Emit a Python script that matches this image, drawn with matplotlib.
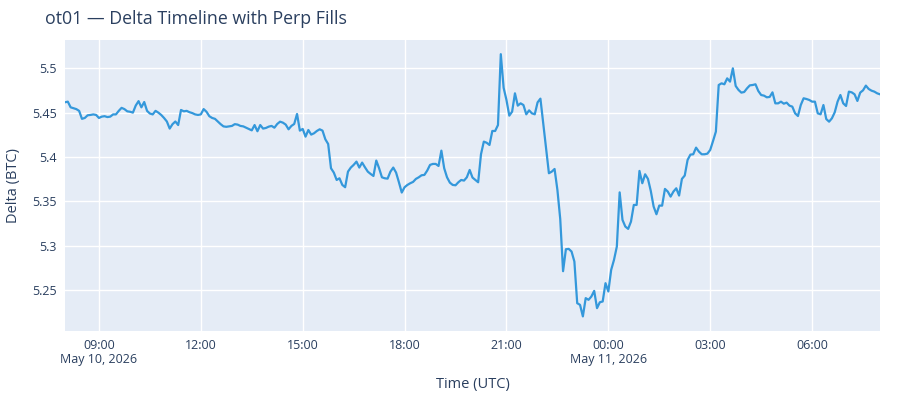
import pandas as pd
import matplotlib
matplotlib.use("Agg")
from matplotlib import pyplot as plt

plt.rcParams['font.family'] = ['Open Sans', 'DejaVu Sans']

title = "ot01 \u2014 Delta Timeline with Perp Fills"
start_time = "2026-05-10 08:00"
step = "5min"

# delta readings every 5 minutes, 08:00 May 10 -> 08:00 May 11 (UTC)
delta = [
    5.4617, 5.4624, 5.456, 5.455, 5.454, 5.452, 5.443, 5.444, 5.447, 5.4474,
    5.448, 5.4474, 5.444, 5.4455, 5.446, 5.445, 5.4455, 5.448, 5.448, 5.452,
    5.4554, 5.454, 5.4515, 5.451, 5.450, 5.458, 5.463, 5.456, 5.462, 5.452,
    5.449, 5.448, 5.452, 5.450, 5.4474, 5.444, 5.440, 5.432, 5.437, 5.440,
    5.436, 5.453, 5.4515, 5.452, 5.4505, 5.4495, 5.448, 5.4474, 5.448, 5.454,
    5.451, 5.446, 5.444, 5.443, 5.440, 5.437, 5.4345, 5.434, 5.4345, 5.435,
    5.437, 5.4365, 5.435, 5.4345, 5.433, 5.4315, 5.430, 5.436, 5.429, 5.436,
    5.432, 5.4327, 5.4342, 5.435, 5.433, 5.4372, 5.4398, 5.4387, 5.4365, 5.4312,
    5.435, 5.4372, 5.4485, 5.4297, 5.4316, 5.4229, 5.4304, 5.4252, 5.4267, 5.4293,
    5.4312, 5.4297, 5.4199, 5.4146, 5.3872, 5.3823, 5.374, 5.3759, 5.3684, 5.3658,
    5.3834, 5.388, 5.391, 5.3947, 5.388, 5.3936, 5.3883, 5.3834, 5.3808, 5.3785,
    5.3959, 5.3872, 5.377, 5.3759, 5.3755, 5.3834, 5.388, 5.3823, 5.3714, 5.3598,
    5.3658, 5.3684, 5.3703, 5.3718, 5.3752, 5.377, 5.3793, 5.3797, 5.3846, 5.391,
    5.3921, 5.3921, 5.3898, 5.4071, 5.3872, 5.377, 5.371, 5.3684, 5.368, 5.3714,
    5.374, 5.3733, 5.377, 5.3853, 5.3767, 5.374, 5.3714, 5.403, 5.4173, 5.416,
    5.4135, 5.4293, 5.4293, 5.436, 5.516, 5.478, 5.4643, 5.4466, 5.4511, 5.4718,
    5.4579, 5.4605, 5.4586, 5.4481, 5.4526, 5.4492, 5.4481, 5.4616, 5.4658, 5.438,
    5.4098, 5.3816, 5.3834, 5.3864, 5.3628, 5.33, 5.271, 5.2958, 5.2962, 5.2932,
    5.2819, 5.2349, 5.233, 5.22, 5.2406, 5.2387, 5.2424, 5.2488, 5.2293, 5.236,
    5.2368, 5.2575, 5.2481, 5.2725, 5.2838, 5.2988, 5.36, 5.3289, 5.3214, 5.3188,
    5.327, 5.3458, 5.3458, 5.3842, 5.3703, 5.3804, 5.3752, 5.3616, 5.344, 5.3353,
    5.3451, 5.345, 5.3639, 5.3609, 5.3552, 5.3609, 5.3646, 5.3564, 5.3752, 5.379,
    5.3966, 5.4026, 5.403, 5.4105, 5.406, 5.403, 5.403, 5.4037, 5.4079, 5.418,
    5.4286, 5.4812, 5.4831, 5.482, 5.4887, 5.485, 5.5, 5.4801, 5.4756, 5.4726,
    5.4733, 5.4774, 5.4808, 5.4812, 5.482, 5.4744, 5.4699, 5.4692, 5.4673, 5.4677,
    5.4729, 5.4605, 5.4605, 5.4624, 5.4601, 5.4613, 5.4579, 5.4568, 5.4492, 5.4462,
    5.4586, 5.4662, 5.4654, 5.4643, 5.4624, 5.4624, 5.4492, 5.4481, 5.4586, 5.4428,
    5.4398, 5.4436, 5.4504, 5.4624, 5.4699, 5.4605, 5.4575, 5.4737, 5.4729, 5.4707,
    5.4632, 5.4726, 5.4752, 5.4805, 5.4767, 5.4748, 5.4737, 5.4718, 5.4707,
]

times = pd.date_range(start_time, periods=len(delta), freq=step)

x_ticks = pd.date_range("2026-05-10 09:00", "2026-05-11 06:00", freq="3h")
x_labels = ["09:00\nMay 10, 2026", "12:00", "15:00", "18:00", "21:00",
            "00:00\nMay 11, 2026", "03:00", "06:00"]
y_ticks = [5.25, 5.3, 5.35, 5.4, 5.45, 5.5]
y_labels = ["5.25", "5.3", "5.35", "5.4", "5.45", "5.5"]

text_col = "#2a3f5f"

fig = plt.figure(figsize=(9, 4), dpi=100)
ax = fig.add_axes([0.0722, 0.1725, 0.9056, 0.7275])
ax.set_facecolor("#E5ECF6")

ax.plot(times, delta, color="#3498db", linewidth=1.6, zorder=3)

ax.set_xlim(times[0], times[-1])
ax.set_ylim(5.2035, 5.532)

ax.set_xticks(x_ticks)
ax.set_xticklabels(x_labels, linespacing=1.1)
ax.set_yticks(y_ticks)
ax.set_yticklabels(y_labels)

ax.grid(True, color="white", linewidth=1.0, zorder=0)
ax.set_axisbelow(True)
for s in ax.spines.values():
    s.set_visible(False)
ax.tick_params(length=0, labelsize=9, colors=text_col, pad=6)

ax.set_xlabel("Time (UTC)", fontsize=10.5, color=text_col, labelpad=8)
ax.set_ylabel("Delta (BTC)", fontsize=10.5, color=text_col, labelpad=8)

fig.text(0.05, 0.975, title, fontsize=12.8, color=text_col, va="top", ha="left")

fig.savefig("out.png", dpi=100)
